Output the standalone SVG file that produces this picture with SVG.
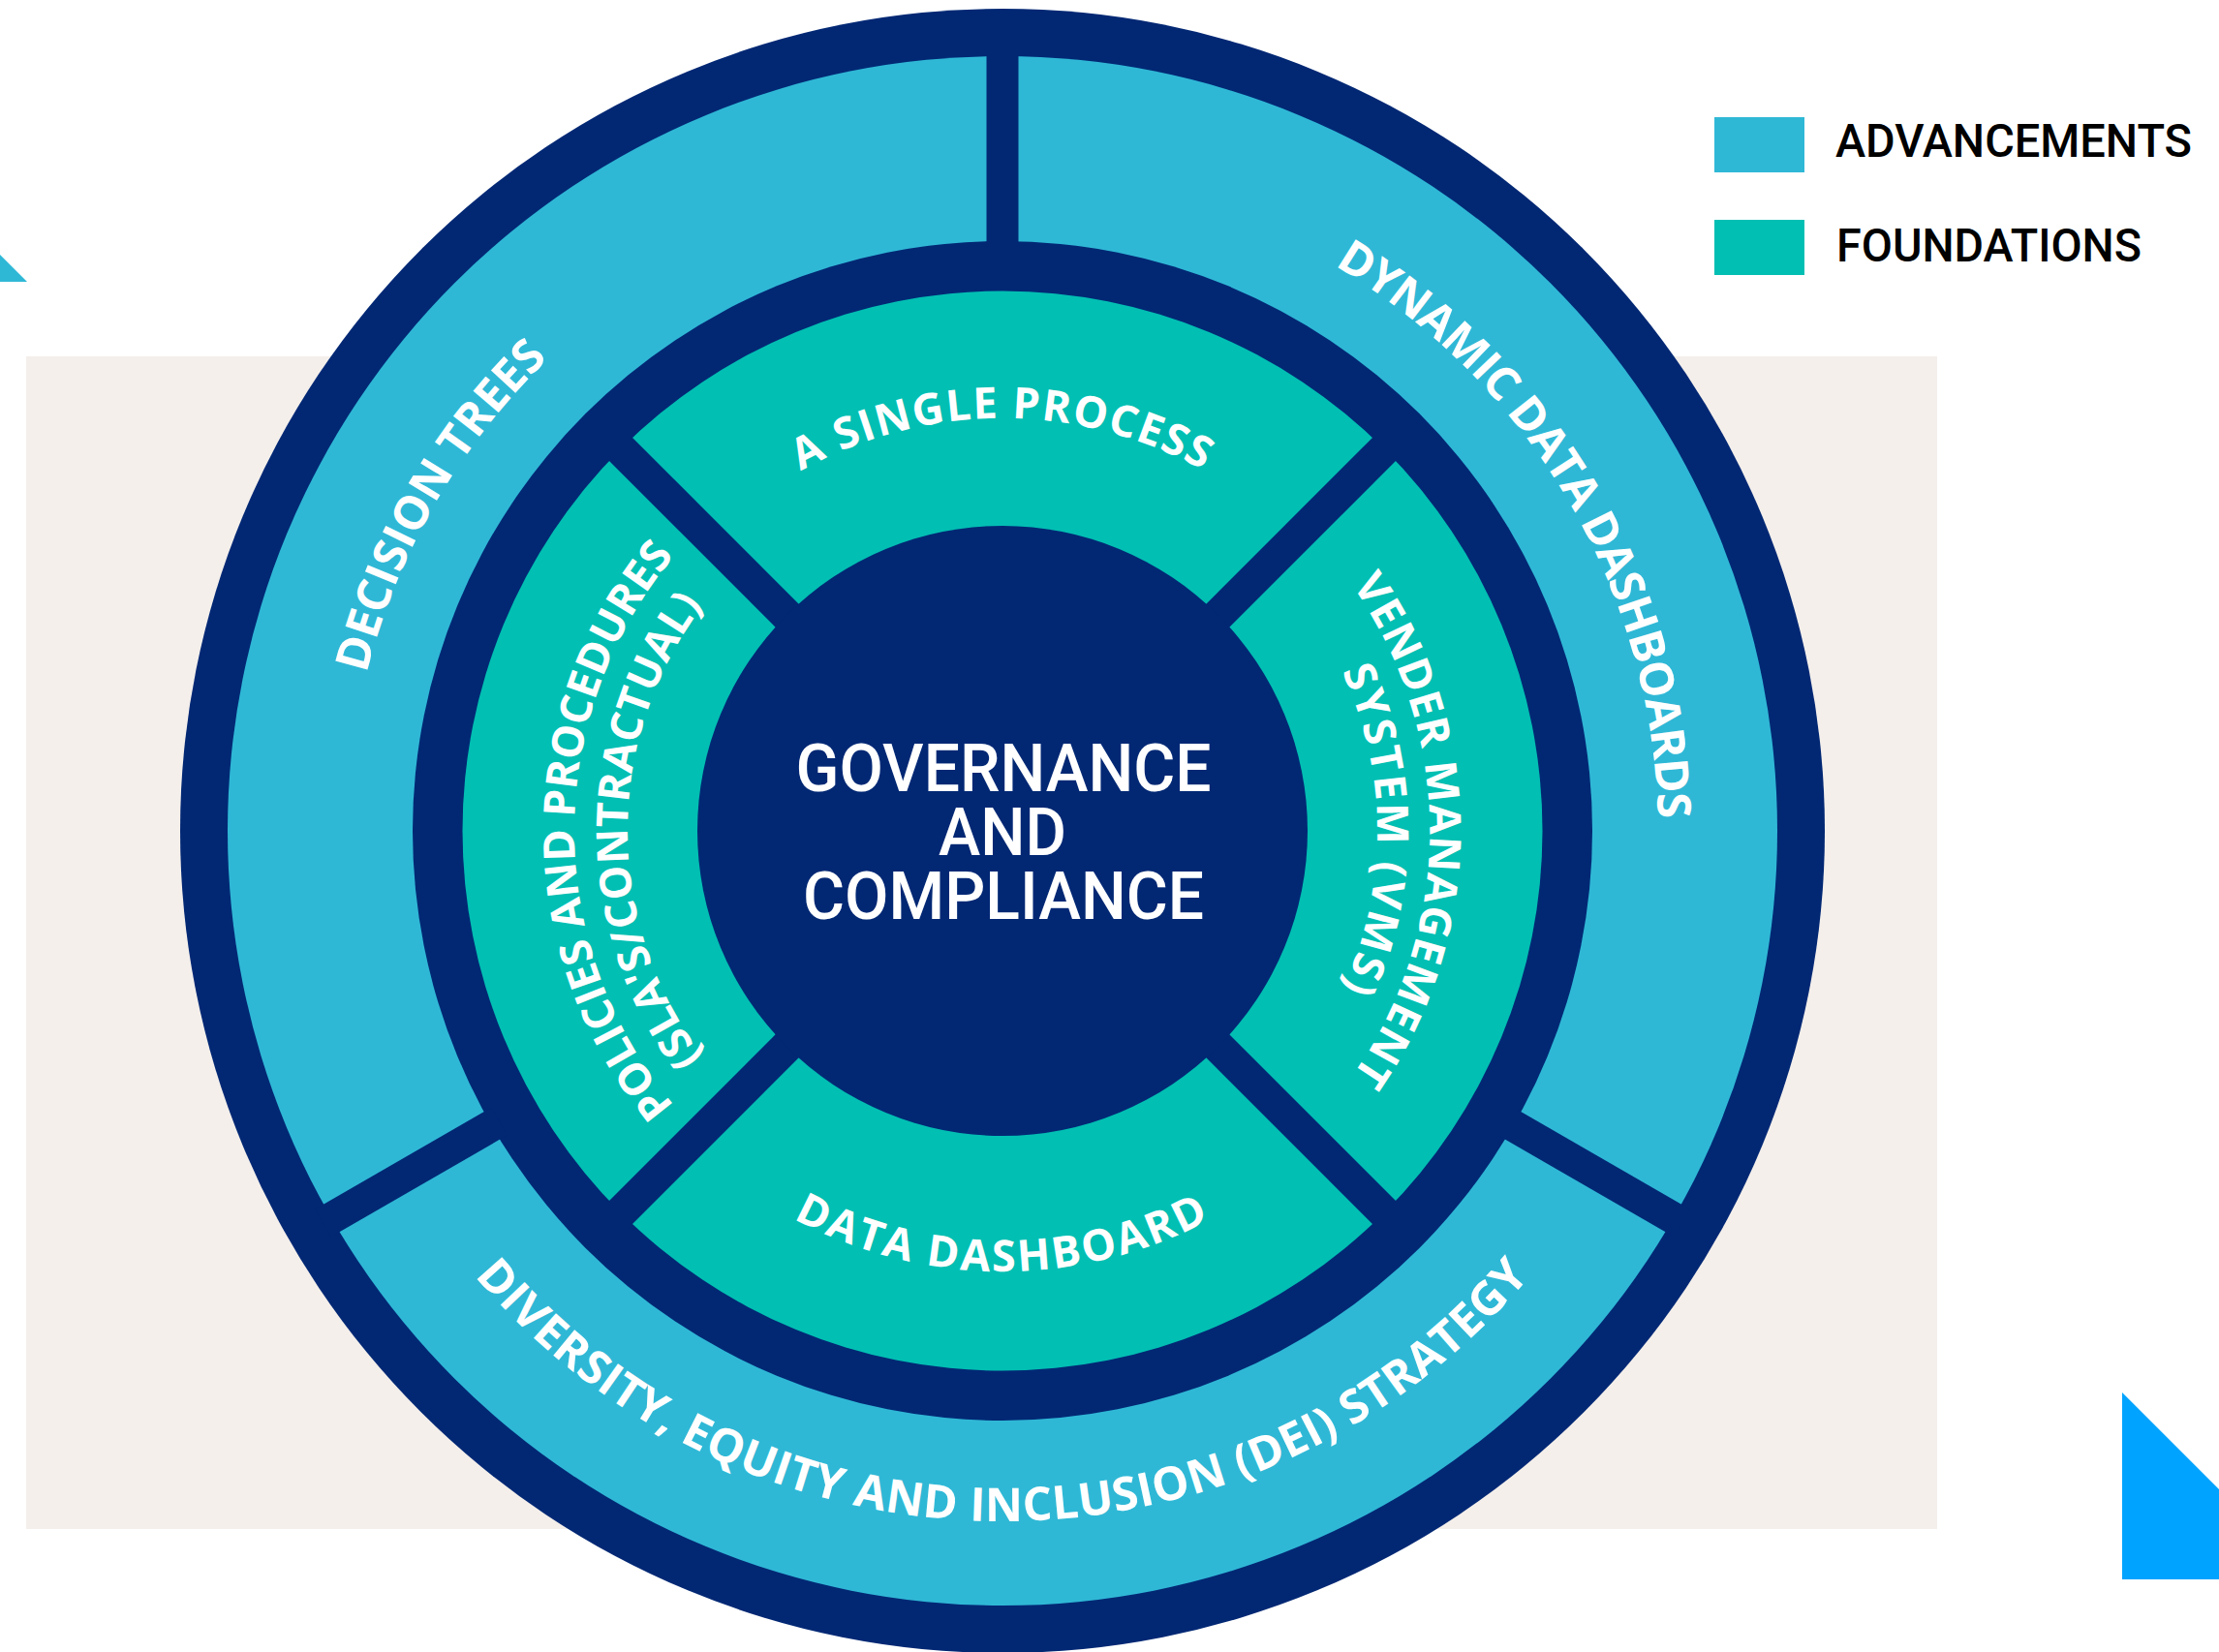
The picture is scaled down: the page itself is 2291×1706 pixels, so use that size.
<svg xmlns="http://www.w3.org/2000/svg" xmlns:xlink="http://www.w3.org/1999/xlink" width="2291" height="1706" viewBox="0 0 2291 1706">
  <defs>
    <style>
      .navy{fill:#022874}
      .lb{fill:#2FB8D6}
      .teal{fill:#02BFB3}
      .div{stroke:#022874;fill:none}
      .ring{font-family:"Open Sans","DejaVu Sans",sans-serif;font-weight:700;fill:#FFFFFF}
      .center{font-family:Roboto,"Liberation Sans",sans-serif;font-weight:500;fill:#FFFFFF;font-size:68px;text-anchor:middle}
      .legend{font-family:Roboto,"Liberation Sans",sans-serif;font-weight:500;fill:#000000;font-size:48px}
    </style>
    <path id="pSingle" d="M 609 858 A 426 426 0 0 1 1461 858"/>
    <path id="pDataDash" d="M 580 858 A 455 455 0 0 0 1490 858"/>
    <path id="pPol1" d="M 1035 1300 A 442 442 0 0 1 1035 416"/>
    <path id="pPol2" d="M 1035 1245 A 387 387 0 0 1 1035 471"/>
    <path id="pVen1" d="M 1035 417 A 441 441 0 0 1 1035 1299"/>
    <path id="pVen2" d="M 1035 471 A 387 387 0 0 1 1035 1245"/>
    <path id="pDecision" d="M 694 1448.6 A 682 682 0 0 1 1376 267.4"/>
    <path id="pDynamic" d="M 694 267.4 A 682 682 0 0 1 1376 1448.6"/>
    <path id="pDiversity" d="M 322 858 A 713 713 0 0 0 1748 858"/>
  </defs>

  <g id="background">
    <rect x="0" y="0" width="2291" height="1706" fill="#FFFFFF"/>
    <rect x="27" y="368" width="1973" height="1211" fill="#F4EFEB"/>
    <polygon points="0,263 28,291 0,291" fill="#2FB8D6"/>
    <polygon points="2191,1438 2291,1538 2291,1631 2191,1631" fill="#00A3FF"/>
  </g>

  <g id="rings">
    <circle class="navy" cx="1035" cy="858" r="849"/>
    <circle class="lb" cx="1035" cy="858" r="800"/>
    <circle class="navy" cx="1035" cy="858" r="609"/>
    <circle class="teal" cx="1035" cy="858" r="557.5"/>
  </g>

  <g id="connectors">
    <line class="div" stroke-width="33" x1="1035" y1="258" x2="1035" y2="48"/>
    <line class="div" stroke-width="33" x1="515.4" y1="1158" x2="333.5" y2="1263"/>
    <line class="div" stroke-width="33" x1="1554.6" y1="1158" x2="1736.5" y2="1263"/>
    <line class="div" stroke-width="34" x1="1247.1" y1="1070.1" x2="1438" y2="1261"/>
    <line class="div" stroke-width="34" x1="822.9" y1="1070.1" x2="632" y2="1261"/>
    <line class="div" stroke-width="34" x1="822.9" y1="645.9" x2="632" y2="455"/>
    <line class="div" stroke-width="34" x1="1247.1" y1="645.9" x2="1438" y2="455"/>
  </g>

  <g id="node-center">
    <circle class="navy" cx="1035" cy="858" r="315"/>
    <text class="center" x="1036" y="817" textLength="429" lengthAdjust="spacingAndGlyphs">GOVERNANCE</text>
    <text class="center" x="1035" y="883" textLength="132" lengthAdjust="spacingAndGlyphs">AND</text>
    <text class="center" x="1036" y="949" textLength="414" lengthAdjust="spacingAndGlyphs">COMPLIANCE</text>
  </g>

  <g id="node-single-process">
    <text class="ring" font-size="45" letter-spacing="1.5" text-anchor="middle"><textPath xlink:href="#pSingle" href="#pSingle" startOffset="50%">A SINGLE PROCESS</textPath></text>
  </g>
  <g id="node-data-dashboard">
    <text class="ring" font-size="45" letter-spacing="2.4" text-anchor="middle"><textPath xlink:href="#pDataDash" href="#pDataDash" startOffset="50%">DATA DASHBOARD</textPath></text>
  </g>
  <g id="node-policies">
    <text class="ring" font-size="45" text-anchor="middle"><textPath xlink:href="#pPol1" href="#pPol1" startOffset="50%">POLICIES AND PROCEDURES</textPath></text>
    <text class="ring" font-size="45" text-anchor="middle"><textPath xlink:href="#pPol2" href="#pPol2" startOffset="50%">(SLA'S/CONTRACTUAL)</textPath></text>
  </g>
  <g id="node-vms">
    <text class="ring" font-size="45" letter-spacing="1.2" text-anchor="middle"><textPath xlink:href="#pVen1" href="#pVen1" startOffset="50%">VENDER MANAGEMENT</textPath></text>
    <text class="ring" font-size="45" letter-spacing="2.5" text-anchor="middle"><textPath xlink:href="#pVen2" href="#pVen2" startOffset="50%">SYSTEM (VMS)</textPath></text>
  </g>
  <g id="node-decision-trees">
    <text class="ring" font-size="48" text-anchor="middle"><textPath xlink:href="#pDecision" href="#pDecision" startOffset="50%">DECISION TREES</textPath></text>
  </g>
  <g id="node-dynamic-dashboards">
    <text class="ring" font-size="48" letter-spacing="-1" text-anchor="middle"><textPath xlink:href="#pDynamic" href="#pDynamic" startOffset="49.8%">DYNAMIC DATA DASHBOARDS</textPath></text>
  </g>
  <g id="node-dei">
    <text class="ring" font-size="48" letter-spacing="0.5" text-anchor="middle"><textPath xlink:href="#pDiversity" href="#pDiversity" startOffset="50%">DIVERSITY, EQUITY AND INCLUSION (DEI) STRATEGY</textPath></text>
  </g>

  <g id="legend">
    <rect x="1770" y="121" width="93" height="57" fill="#2FB8D6"/>
    <text class="legend" x="1895" y="162" textLength="368" lengthAdjust="spacingAndGlyphs">ADVANCEMENTS</text>
    <rect x="1770" y="227" width="93" height="57" fill="#02BFB3"/>
    <text class="legend" x="1896" y="270" textLength="315" lengthAdjust="spacingAndGlyphs">FOUNDATIONS</text>
  </g>
</svg>
